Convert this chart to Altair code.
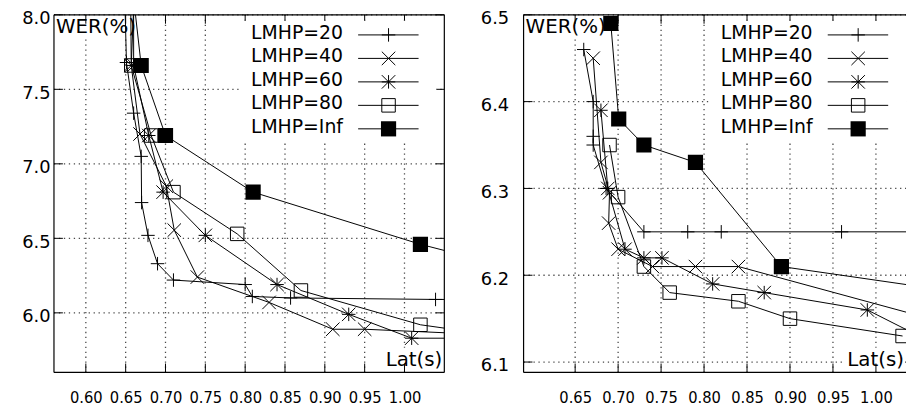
import altair as alt
import pandas as pd

SERIES = ["LMHP=20", "LMHP=40", "LMHP=60", "LMHP=80", "LMHP=Inf"]

# ---------------- left panel (latency s, WER %) ----------------
L20_LAT = [0.648, 0.651, 0.660, 0.6695, 0.670, 0.678, 0.690, 0.710, 0.800, 0.809, 0.857, 1.039, 1.100]
L20_WER = [8.30, 7.68, 7.34, 7.05, 6.74, 6.52, 6.33, 6.22, 6.19, 6.11, 6.10, 6.09, 6.09]
L40_LAT = [0.656, 0.657, 0.668, 0.701, 0.711, 0.740, 0.830, 0.910, 0.950, 1.120]
L40_WER = [8.30, 7.66, 7.20, 6.85, 6.555, 6.24, 6.07, 5.89, 5.89, 5.85]
L60_LAT = [0.660, 0.660, 0.679, 0.697, 0.750, 0.840, 0.930, 1.009, 1.100]
L60_WER = [8.30, 7.66, 7.19, 6.81, 6.52, 6.19, 5.99, 5.83, 5.83]
L80_LAT = [0.662, 0.657, 0.682, 0.710, 0.790, 0.870, 1.020, 1.100]
L80_WER = [8.30, 7.66, 7.19, 6.81, 6.53, 6.15, 5.92, 5.86]
LINF_LAT = [0.656, 0.6695, 0.700, 0.810, 1.020, 1.100]
LINF_WER = [8.30, 7.66, 7.19, 6.81, 6.46, 6.35]

LX_TICKS = [0.60, 0.65, 0.70, 0.75, 0.80, 0.85, 0.90, 0.95, 1.00]
LY_TICKS = [6.0, 6.5, 7.0, 7.5, 8.0]
LX_DOMAIN = [0.56, 1.05]
LY_DOMAIN = [5.6, 8.0]

# ---------------- right panel ----------------
R20_LAT = [0.660, 0.671, 0.671, 0.671, 0.686, 0.730, 0.781, 0.820, 0.960, 1.100]
R20_WER = [6.46, 6.40, 6.36, 6.35, 6.30, 6.25, 6.25, 6.25, 6.25, 6.25]
R40_LAT = [0.671, 0.680, 0.690, 0.689, 0.700, 0.740, 0.790, 0.840, 1.100]
R40_WER = [6.45, 6.33, 6.295, 6.26, 6.23, 6.21, 6.21, 6.21, 6.14]
R60_LAT = [0.680, 0.688, 0.708, 0.730, 0.751, 0.810, 0.870, 0.990, 1.060]
R60_WER = [6.39, 6.30, 6.23, 6.22, 6.22, 6.19, 6.18, 6.16, 6.125]
R80_LAT = [0.690, 0.700, 0.730, 0.760, 0.840, 0.900, 1.031]
R80_WER = [6.35, 6.29, 6.21, 6.18, 6.17, 6.15, 6.13]
RINF_LAT = [0.6915, 0.7007, 0.730, 0.790, 0.890, 1.100]
RINF_WER = [6.49, 6.38, 6.35, 6.33, 6.21, 6.18]

RX_TICKS = [0.65, 0.70, 0.75, 0.80, 0.85, 0.90, 0.95, 1.00]
RY_TICKS = [6.1, 6.2, 6.3, 6.4, 6.5]
RX_DOMAIN = [0.59, 1.035]
RY_DOMAIN = [6.088, 6.5]

Y_TITLE = "WER(%)"
X_TITLE = "Lat(s)"

FONT = "DejaVu Sans"
XFONT = "DejaVu Sans Condensed, Liberation Sans Narrow, DejaVu Sans"
PLUS = "M-1,0L1,0M0,-1L0,1"
CROSS = "M-1,-1L1,1M-1,1L1,-1"
STAR = "M-1,0L1,0M0,-1L0,1M-1,-1L1,1M-1,1L1,-1"
SHAPES = [PLUS, CROSS, STAR, "square"]

H = 361
W_LEFT = 394
W_RIGHT = 386
TICK = 9
GRID = "#4a4a4a"


def series_frame(lats, wers):
    rows = []
    for name, la, we in zip(SERIES, lats, wers):
        for i, (a, b) in enumerate(zip(la, we)):
            rows.append({"series": name, "lat": a, "wer": b, "idx": i})
    return pd.DataFrame(rows)


def one():
    return pd.DataFrame({"k": [0]})


def panel(df, xdom, ydom, xticks, yticks, W, ylabpad, full_frame):
    xs = alt.Scale(domain=xdom, nice=False, zero=False)
    ys = alt.Scale(domain=ydom, nice=False, zero=False)
    xaxis = alt.Axis(values=xticks, format=".2f", ticks=False, tickSize=0, domain=False,
                     grid=False,
                     labelFont=XFONT, labelFontSize=16.5, labelPadding=17,
                     labelColor="black", labelFlush=False)
    yaxis = alt.Axis(values=yticks, format=".1f", ticks=False, tickSize=0, domain=False,
                     grid=False,
                     labelFont=FONT, labelFontSize=18, labelPadding=ylabpad,
                     labelOffset=4, labelBaseline="middle", labelColor="black",
                     labelFlush=False)

    def X(f):
        return alt.X(f, type="quantitative", scale=xs, axis=xaxis, title=None)

    def Y(f):
        return alt.Y(f, type="quantitative", scale=ys, axis=yaxis, title=None)

    xt = pd.DataFrame({"t": xticks})
    yt = pd.DataFrame({"t": yticks})

    layers = []
    # dotted grid
    layers.append(alt.Chart(xt).mark_rule(color=GRID, strokeWidth=1.3, strokeDash=[1.3, 3.7],
                                          opacity=1).encode(
        x=X("t"), y=alt.value(0), y2=alt.value(H)))
    layers.append(alt.Chart(yt).mark_rule(color=GRID, strokeWidth=1.3, strokeDash=[1.3, 3.7],
                                          opacity=1).encode(
        y=Y("t"), x=alt.value(0), x2=alt.value(W)))

    # opaque boxes behind the corner labels
    layers.append(alt.Chart(one()).mark_rect(color="white").encode(
        x=alt.value(1), x2=alt.value(86), y=alt.value(1), y2=alt.value(23)))
    layers.append(alt.Chart(one()).mark_rect(color="white").encode(
        x=alt.value(W - 62), x2=alt.value(W - 1), y=alt.value(H - 25), y2=alt.value(H - 1)))
    layers.append(alt.Chart(pd.DataFrame({"t": [Y_TITLE]})).mark_text(
        font=FONT, fontSize=20, align="left", baseline="top", color="black").encode(
        x=alt.value(2), y=alt.value(2), text="t:N"))
    layers.append(alt.Chart(pd.DataFrame({"t": [X_TITLE]})).mark_text(
        font=FONT, fontSize=20, align="right", baseline="alphabetic", color="black").encode(
        x=alt.value(W - 2), y=alt.value(H - 6.5), text="t:N"))

    # inward ticks
    layers.append(alt.Chart(xt).mark_rule(color="black", strokeWidth=1).encode(
        x=X("t"), y=alt.value(H), y2=alt.value(H - TICK)))
    layers.append(alt.Chart(xt).mark_rule(color="black", strokeWidth=1).encode(
        x=X("t"), y=alt.value(0), y2=alt.value(TICK)))
    layers.append(alt.Chart(yt).mark_rule(color="black", strokeWidth=1).encode(
        y=Y("t"), x=alt.value(0), x2=alt.value(TICK)))
    if full_frame:
        layers.append(alt.Chart(yt).mark_rule(color="black", strokeWidth=1).encode(
            y=Y("t"), x=alt.value(W - TICK), x2=alt.value(W)))

    # opaque key background
    layers.append(alt.Chart(one()).mark_rect(color="white").encode(
        x=alt.value(189), x2=alt.value(386), y=alt.value(6), y2=alt.value(128)))

    # frame
    layers.append(alt.Chart(one()).mark_rule(color="black", strokeWidth=1.2).encode(
        x=alt.value(0), x2=alt.value(W), y=alt.value(0)))
    layers.append(alt.Chart(one()).mark_rule(color="black", strokeWidth=1.2).encode(
        x=alt.value(0), x2=alt.value(W), y=alt.value(H)))
    layers.append(alt.Chart(one()).mark_rule(color="black", strokeWidth=1.2).encode(
        x=alt.value(0), y=alt.value(0), y2=alt.value(H)))
    if full_frame:
        layers.append(alt.Chart(one()).mark_rule(color="black", strokeWidth=1.2).encode(
            x=alt.value(W), y=alt.value(0), y2=alt.value(H)))

    # data
    layers.append(alt.Chart(df).mark_line(color="black", strokeWidth=1, clip=True).encode(
        x=X("lat"), y=Y("wer"), detail="series:N", order="idx:Q"))
    open_df = df[df["series"] != SERIES[4]]
    fill_df = df[df["series"] == SERIES[4]]
    layers.append(alt.Chart(open_df).mark_point(
        filled=False, color="black", strokeWidth=1, size=185, opacity=1, clip=True).encode(
        x=X("lat"), y=Y("wer"),
        shape=alt.Shape("series:N", scale=alt.Scale(domain=SERIES[:4], range=SHAPES), legend=None)))
    layers.append(alt.Chart(fill_df).mark_point(
        shape="square", filled=True, color="black", size=235, opacity=1, clip=True).encode(
        x=X("lat"), y=Y("wer")))

    # key
    for i, name in enumerate(SERIES):
        ry = 20.3 + 23.7 * i
        layers.append(alt.Chart(pd.DataFrame({"s": [name]})).mark_text(
            font=FONT, fontSize=19, align="right", baseline="middle", color="black").encode(
            x=alt.value(291.7), y=alt.value(ry - 2), text="s:N"))
        layers.append(alt.Chart(one()).mark_rule(color="black", strokeWidth=1).encode(
            x=alt.value(307), x2=alt.value(368), y=alt.value(ry)))
        if i < 4:
            layers.append(alt.Chart(one()).mark_point(
                shape=SHAPES[i], filled=False, color="black", strokeWidth=1, size=185, opacity=1).encode(
                x=alt.value(337.7), y=alt.value(ry)))
        else:
            layers.append(alt.Chart(one()).mark_point(
                shape="square", filled=True, color="black", size=235, opacity=1).encode(
                x=alt.value(337.7), y=alt.value(ry)))

    return alt.layer(*layers).properties(width=W, height=H)


left_df = series_frame([L20_LAT, L40_LAT, L60_LAT, L80_LAT, LINF_LAT],
                       [L20_WER, L40_WER, L60_WER, L80_WER, LINF_WER])
right_df = series_frame([R20_LAT, R40_LAT, R60_LAT, R80_LAT, RINF_LAT],
                        [R20_WER, R40_WER, R60_WER, R80_WER, RINF_WER])

left = panel(left_df, LX_DOMAIN, LY_DOMAIN, LX_TICKS, LY_TICKS, W_LEFT, 4, True)
right = panel(right_df, RX_DOMAIN, RY_DOMAIN, RX_TICKS, RY_TICKS, W_RIGHT, 15, False)

chart = alt.hconcat(left, right, spacing=35).properties(
    padding={"left": 13.4, "top": 0, "right": 0, "bottom": 0},
    background="white",
).configure_view(stroke=None)

chart.save("out.html", embed_options={"renderer": "svg", "actions": False})
